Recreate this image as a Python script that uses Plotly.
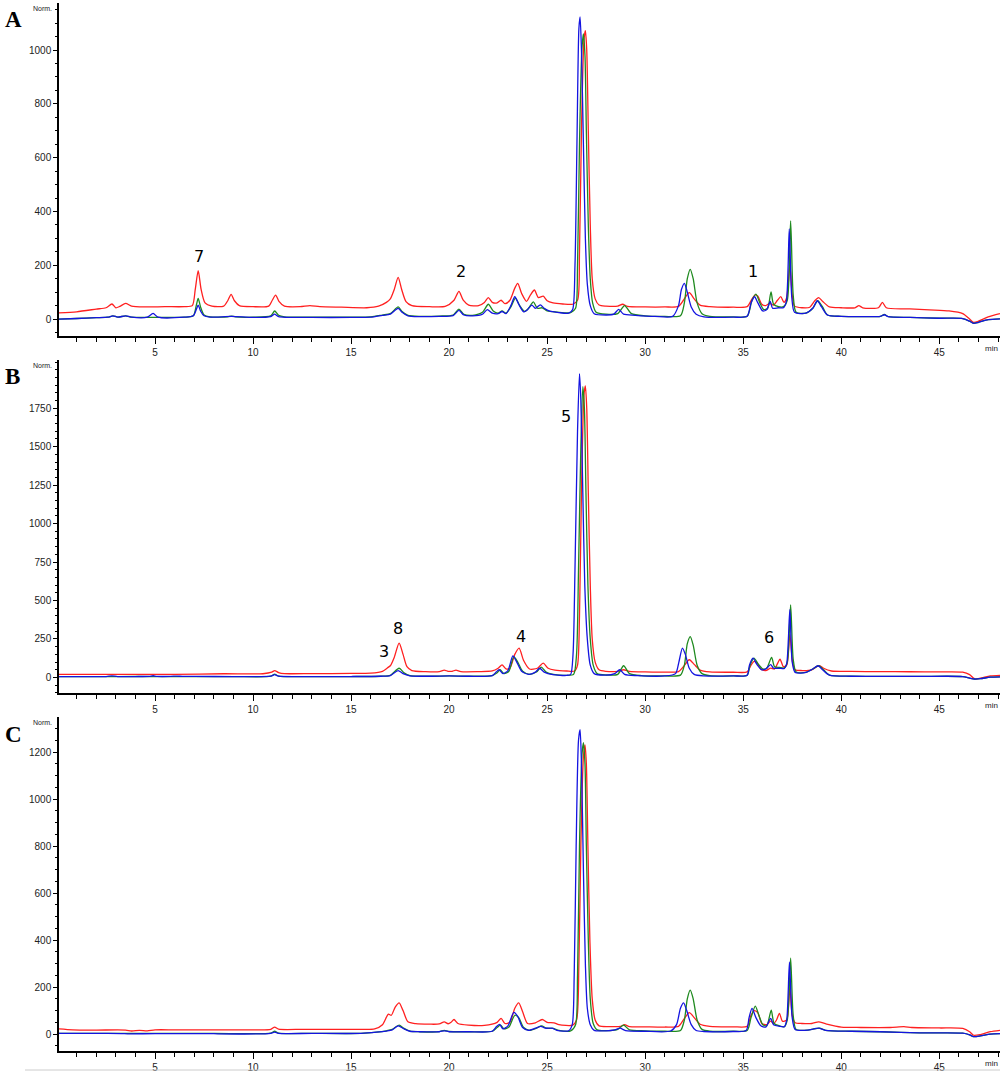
import plotly.graph_objects as go

# ---------------- data (retention time in min, signal in Norm.) ----------------
A_red = [(0.1,23),(1.0,27),(2.0,37),(2.5,42),(2.8,56),(3.0,42),(3.2,47),(3.5,58),(3.8,48),(4.5,45),(5.5,46),(6.5,46),
         (6.9,50),(7.05,110),(7.2,180),(7.35,110),(7.55,60),(7.9,48),(8.5,48),(8.72,70),(8.88,92),(9.05,68),(9.3,50),
         (10.0,46),(10.8,48),(10.98,70),(11.15,89),(11.32,66),(11.6,48),(12.4,46),(12.9,50),(13.4,46),(14.5,44),(15.8,42),
         (16.4,48),(16.8,62),(17.0,75),(17.2,110),(17.4,155),(17.58,110),(17.8,65),(18.1,50),(19.0,46),(19.8,47),
         (20.25,70),(20.5,103),(20.72,70),(21.0,52),(21.5,50),(21.8,62),(22.0,80),(22.2,62),(22.45,60),(22.65,70),
         (22.85,57),(23.1,70),(23.35,115),(23.5,133),(23.7,95),(23.95,66),(24.15,90),(24.35,108),(24.55,80),(24.8,85),
         (25.0,68),(25.3,60),(25.8,56),(26.3,55),(26.55,70),(26.65,250),(26.75,700),(26.88,1040),(26.95,1072),
         (27.02,1000),(27.1,700),(27.2,350),(27.3,150),(27.45,75),(27.65,52),(28.0,48),(28.6,48),(28.85,55),(29.1,47),
         (30.0,45),(31.0,45),(31.7,47),(31.95,70),(32.25,98),(32.5,75),(32.8,52),(33.3,46),(34.5,44),(35.2,46),
         (35.45,75),(35.62,90),(35.75,85),(35.95,55),(36.15,50),(36.35,58),(36.55,52),(36.75,70),(36.92,83),(37.08,62),
         (37.22,80),(37.38,200),(37.5,90),(37.62,48),(38.0,42),(38.4,44),(38.65,68),(38.85,80),(39.05,66),(39.4,45),
         (40.0,42),(40.7,42),(40.9,50),(41.1,42),(41.9,42),(42.1,62),(42.3,42),(43.5,38),(44.5,34),(45.5,30),(46.2,20),
         (46.55,0),(46.75,-12),(47.0,-8),(47.5,8),(48.1,20)]
A_green = [(0.1,0),(1.0,2),(2.0,5),(2.6,7),(2.85,12),(3.1,7),(3.5,12),(3.8,7),(4.5,6),(5.5,6),(6.5,7),(6.95,12),(7.1,50),
           (7.2,77),(7.32,45),(7.5,15),(7.8,8),(8.7,8),(8.9,11),(9.1,8),(10.0,7),(10.9,12),(11.1,30),(11.3,14),(11.6,8),
           (13.0,7),(15.0,7),(16.0,8),(16.6,15),(17.0,20),(17.4,45),(17.6,28),(17.9,14),(18.5,10),(19.5,11),(20.2,15),
           (20.5,37),(20.75,18),(21.2,14),(21.7,25),(22.0,55),(22.25,30),(22.5,22),(22.7,30),(22.9,22),(23.15,45),
           (23.38,78),(23.6,50),(23.85,28),(24.05,40),(24.3,64),(24.5,40),(24.75,42),(25.0,30),(25.5,26),(26.2,24),
           (26.45,40),(26.55,200),(26.65,650),(26.77,1000),(26.85,1060),(26.93,980),(27.0,700),(27.1,350),(27.2,150),
           (27.32,60),(27.5,25),(28.0,18),(28.6,20),(28.95,50),(29.3,20),(30.0,12),(31.0,10),(31.8,12),(32.0,60),
           (32.15,150),(32.3,185),(32.45,150),(32.65,60),(32.9,20),(33.3,10),(34.5,8),(35.2,10),(35.45,70),(35.65,93),
           (35.85,60),(36.05,35),(36.25,40),(36.42,101),(36.55,55),(36.8,46),(37.05,46),(37.25,70),(37.42,365),
           (37.55,90),(37.7,25),(38.2,22),(38.55,40),(38.8,68),(39.05,45),(39.3,15),(40.0,10),(41.0,9),(42.0,10),
           (42.2,17),(42.4,9),(43.5,6),(45.0,3),(46.2,2),(46.55,-8),(46.75,-16),(47.0,-12),(47.5,-2),(48.1,1)]
A_blue = [(0.1,0),(1.0,2),(2.0,5),(2.6,7),(2.85,12),(3.1,7),(3.5,12),(3.8,7),(4.6,7),(4.9,21),(5.15,7),(6.5,7),(6.95,12),
          (7.1,35),(7.2,52),(7.32,30),(7.5,12),(7.8,7),(8.9,10),(10.0,6),(10.9,9),(11.1,18),(11.3,9),(13.0,6),(15.0,6),
          (16.0,7),(16.6,14),(17.0,18),(17.4,40),(17.6,25),(17.9,12),(18.5,9),(19.5,10),(20.2,13),(20.5,32),(20.75,15),
          (21.2,12),(21.7,18),(21.95,35),(22.2,22),(22.5,20),(22.7,28),(22.9,20),(23.15,50),(23.35,83),(23.55,55),
          (23.8,27),(24.0,35),(24.22,52),(24.4,40),(24.65,53),(24.85,40),(25.1,30),(25.6,24),(26.1,22),(26.3,35),
          (26.42,200),(26.52,650),(26.62,1080),(26.68,1123),(26.75,1000),(26.85,650),(26.95,300),(27.05,130),
          (27.2,50),(27.4,20),(28.0,15),(28.4,18),(28.65,36),(28.9,18),(29.5,14),(30.5,10),(31.4,10),(31.7,50),
          (31.85,110),(32.0,133),(32.15,100),(32.35,45),(32.6,18),(33.0,8),(34.5,7),(35.2,10),(35.4,60),(35.58,83),
          (35.75,60),(36.0,30),(36.2,35),(36.38,66),(36.5,40),(36.8,42),(37.05,42),(37.2,65),(37.35,335),(37.48,80),
          (37.62,25),(38.2,22),(38.55,40),(38.78,68),(39.0,45),(39.3,15),(40.0,10),(41.0,9),(42.0,10),(42.2,16),
          (42.4,9),(43.5,6),(45.0,3),(46.2,2),(46.55,-8),(46.75,-16),(47.0,-12),(47.5,-2),(48.1,1)]

B_red = [(0.1,20),(2.0,20),(4.0,20),(6.0,20),(8.5,24),(10.5,24),(10.95,34),(11.1,45),(11.3,32),(11.6,25),(13.0,25),
         (15.0,26),(16.0,28),(16.6,40),(16.85,62),(17.0,76),(17.2,130),(17.45,223),(17.65,150),(17.85,70),(18.1,45),
         (18.8,38),(19.5,38),(19.75,48),(19.95,40),(20.15,40),(20.35,48),(20.6,38),(21.5,38),(22.2,42),(22.5,60),
         (22.7,82),(22.9,55),(23.1,60),(23.35,150),(23.57,191),(23.8,110),(24.1,55),(24.5,60),(24.8,93),(25.05,60),
         (25.4,48),(26.0,42),(26.4,42),(26.55,80),(26.65,400),(26.75,1200),(26.88,1840),(26.95,1895),(27.02,1750),
         (27.1,1200),(27.2,600),(27.3,250),(27.45,100),(27.65,50),(28.0,40),(28.6,40),(28.9,50),(29.2,40),(30.0,36),
         (31.0,35),(31.7,38),(31.95,70),(32.25,115),(32.5,85),(32.8,48),(33.3,36),(34.5,34),(35.2,36),(35.4,80),
         (35.55,105),(35.7,95),(35.9,55),(36.15,45),(36.4,60),(36.6,55),(36.75,90),(36.88,119),(37.05,70),(37.22,80),
         (37.38,280),(37.52,100),(37.65,50),(38.0,45),(38.5,50),(38.75,70),(38.9,76),(39.1,60),(39.5,42),(40.5,39),
         (42.0,38),(43.5,37),(45.0,36),(46.2,34),(46.55,18),(46.8,-8),(47.1,-4),(47.6,10),(48.1,14)]
B_green = [(0.1,5),(1.0,5),(2.0,5),(3.0,6),(5.0,6),(7.0,6),(9.0,6),(10.9,8),(11.1,22),(11.3,9),(13.0,6),(15.0,6),
           (16.5,8),(17.0,14),(17.45,60),(17.7,30),(18.0,12),(19.0,8),(20.0,10),(21.0,8),(22.2,12),(22.45,30),(22.6,50),
           (22.8,25),(23.05,40),(23.3,136),(23.5,100),(23.75,40),(24.1,20),(24.45,35),(24.7,67),(24.95,35),(25.4,18),
           (26.0,14),(26.35,20),(26.5,150),(26.6,700),(26.72,1500),(26.82,1890),(26.9,1750),(26.98,1200),(27.08,600),
           (27.2,250),(27.35,80),(27.55,25),(28.0,16),(28.6,20),(28.9,76),(29.2,25),(29.8,12),(31.0,10),(31.8,15),
           (32.0,80),(32.15,220),(32.3,266),(32.45,210),(32.65,80),(32.9,25),(33.3,12),(34.5,10),(35.2,14),(35.35,80),
           (35.55,126),(35.75,90),(36.0,55),(36.2,60),(36.45,131),(36.6,70),(36.85,65),(37.1,62),(37.25,100),
           (37.42,472),(37.55,120),(37.7,35),(38.2,33),(38.55,55),(38.85,76),(39.1,50),(39.4,15),(40.5,8),(42.0,7),
           (44.0,7),(46.2,6),(46.55,-4),(46.8,-10),(47.1,-8),(47.6,2),(48.1,4)]
B_blue = [(0.1,5),(1.0,5),(2.5,6),(2.8,10),(3.1,6),(4.0,6),(4.7,7),(4.9,11),(5.1,7),(5.8,7),(6.1,9),(6.4,7),(7.0,7),
          (9.0,6),(10.9,8),(11.1,18),(11.3,8),(13.0,6),(15.0,6),(16.5,8),(17.0,12),(17.4,45),(17.65,25),(18.0,11),
          (19.0,8),(20.0,10),(21.0,8),(22.2,12),(22.4,35),(22.55,50),(22.75,25),(23.0,45),(23.25,140),(23.45,100),
          (23.7,40),(24.05,20),(24.4,35),(24.62,60),(24.85,35),(25.3,18),(26.0,14),(26.2,20),(26.32,150),(26.42,700),
          (26.55,1600),(26.65,1975),(26.72,1800),(26.82,1200),(26.92,600),(27.05,250),(27.2,80),(27.4,25),(28.0,15),
          (28.45,25),(28.7,50),(28.95,20),(29.6,12),(31.0,10),(31.55,25),(31.72,100),(31.9,191),(32.05,150),
          (32.25,60),(32.5,20),(33.0,10),(34.5,10),(35.2,14),(35.32,80),(35.5,125),(35.7,85),(35.95,50),(36.15,55),
          (36.4,83),(36.55,60),(36.85,60),(37.1,58),(37.22,90),(37.38,440),(37.5,100),(37.65,33),(38.2,33),(38.55,55),
          (38.82,76),(39.05,50),(39.4,15),(40.5,8),(42.0,7),(44.0,7),(46.2,6),(46.55,-4),(46.8,-10),(47.1,-8),
          (47.6,2),(48.1,4)]

C_red = [(0.1,22),(0.8,18),(2.0,17),(3.5,17),(3.8,13),(4.2,16),(4.6,14),(5.0,18),(6.0,18),(8.0,18),(10.0,18),
         (10.9,20),(11.1,30),(11.3,21),(12.5,20),(14.0,20),(15.5,20),(16.2,22),(16.6,40),(16.9,85),(17.05,80),
         (17.25,115),(17.45,133),(17.65,100),(17.9,52),(18.3,44),(19.0,42),(19.5,43),(19.75,52),(19.95,44),(20.1,50),
         (20.25,62),(20.45,45),(21.0,38),(21.8,37),(22.45,50),(22.65,67),(22.85,45),(23.1,50),(23.35,110),(23.55,133),
         (23.75,95),(24.0,45),(24.4,48),(24.75,62),(25.0,50),(25.35,48),(25.6,40),(26.3,38),(26.5,60),(26.62,300),
         (26.72,800),(26.85,1180),(26.93,1230),(27.0,1150),(27.08,800),(27.18,400),(27.3,150),(27.45,60),(27.65,35),
         (28.2,32),(28.75,33),(28.95,40),(29.2,32),(30.0,31),(31.0,30),(31.7,33),(31.95,60),(32.25,91),(32.5,70),
         (32.8,42),(33.3,33),(34.5,31),(35.2,33),(35.4,80),(35.58,100),(35.75,90),(35.95,45),(36.2,40),(36.4,55),
         (36.55,45),(36.7,60),(36.85,88),(37.0,55),(37.22,60),(37.38,200),(37.5,80),(37.65,48),(38.0,45),(38.5,45),
         (38.85,52),(39.2,44),(40.0,30),(41.0,28),(42.5,28),(43.2,32),(43.6,28),(45.0,26),(46.2,24),(46.55,10),
         (46.75,-5),(47.1,-2),(47.6,10),(48.1,16)]
C_green = [(0.1,3),(2.0,3),(5.0,3),(8.0,3),(10.9,4),(11.1,12),(11.3,4),(13.0,3),(15.5,3),(16.3,8),(16.8,14),(17.1,20),
           (17.45,38),(17.7,24),(18.0,13),(18.5,10),(19.5,10),(19.75,16),(20.0,11),(21.0,10),(22.2,12),(22.45,28),
           (22.62,38),(22.8,22),(23.05,30),(23.35,80),(23.55,70),(23.8,28),(24.1,16),(24.45,25),(24.72,35),(24.95,25),
           (25.3,24),(25.6,16),(26.2,14),(26.45,40),(26.55,250),(26.65,800),(26.77,1180),(26.85,1240),(26.93,1150),
           (27.0,800),(27.1,400),(27.2,150),(27.35,45),(27.55,18),(28.2,15),(28.6,20),(28.9,38),(29.2,18),(30.0,14),
           (31.0,12),(31.8,15),(32.0,60),(32.15,150),(32.3,187),(32.45,150),(32.65,60),(32.9,20),(33.3,12),(34.5,12),
           (35.2,15),(35.4,70),(35.62,119),(35.8,80),(36.0,40),(36.2,35),(36.43,102),(36.58,45),(36.85,35),(37.1,31),
           (37.25,60),(37.42,323),(37.55,80),(37.7,20),(38.3,17),(38.6,22),(38.9,25),(39.2,16),(40.5,12),(42.0,10),
           (44.0,5),(46.2,4),(46.55,-3),(46.75,-11),(47.1,-8),(47.6,0),(48.1,2)]
C_blue = [(0.1,3),(2.0,3),(3.3,2),(3.6,1),(5.0,2),(7.8,2),(8.2,1),(10.9,3),(11.1,8),(11.3,3),(13.0,3),(15.5,3),
          (16.3,8),(16.8,13),(17.1,18),(17.4,35),(17.7,22),(18.0,12),(18.5,10),(19.5,10),(19.75,14),(20.0,10),
          (21.0,10),(22.2,12),(22.42,32),(22.58,41),(22.75,22),(23.0,35),(23.3,92),(23.5,75),(23.75,28),(24.05,16),
          (24.4,25),(24.68,33),(24.9,25),(25.25,25),(25.5,16),(26.1,14),(26.28,40),(26.38,250),(26.48,800),
          (26.6,1250),(26.68,1295),(26.75,1150),(26.85,700),(26.95,300),(27.05,110),(27.2,40),(27.4,16),(28.0,14),
          (28.45,18),(28.72,25),(29.0,15),(30.0,12),(31.3,13),(31.6,40),(31.8,110),(31.96,133),(32.12,100),
          (32.35,40),(32.6,15),(33.0,11),(34.5,11),(35.15,15),(35.3,70),(35.45,109),(35.65,70),(35.9,35),(36.15,30),
          (36.4,67),(36.55,40),(36.85,33),(37.1,31),(37.22,60),(37.36,306),(37.5,70),(37.65,20),(38.3,17),(38.6,22),
          (38.85,25),(39.2,16),(40.5,12),(42.0,10),(44.0,5),(46.2,4),(46.55,-3),(46.75,-11),(47.1,-8),(47.6,0),
          (48.1,2)]

x_tick_labels = [5, 10, 15, 20, 25, 30, 35, 40, 45]
A_y_ticks = [0, 200, 400, 600, 800, 1000]
B_y_ticks = [0, 250, 500, 750, 1000, 1250, 1500, 1750]
C_y_ticks = [0, 200, 400, 600, 800, 1000, 1200]

# peak numbers: (panel, label, time, signal)
peak_labels = [("A", "7", 7.24, 234), ("A", "2", 20.6, 175), ("A", "1", 35.5, 175),
               ("B", "5", 25.97, 1693), ("B", "8", 17.4, 316), ("B", "3", 16.68, 167),
               ("B", "4", 23.67, 264), ("B", "6", 36.33, 258)]

# ---------------- figure ----------------
W, H = 1000, 1073
RED, GREEN, BLUE = "#ff2020", "#1f8a1f", "#1414e0"

panels = [
    dict(key="A", top=3, bot=336, rng=[-63, 1175], yt=A_y_ticks, data=[A_red, A_green, A_blue]),
    dict(key="B", top=360, bot=693, rng=[-101, 2063], yt=B_y_ticks, data=[B_red, B_green, B_blue]),
    dict(key="C", top=717, bot=1051, rng=[-72, 1349], yt=C_y_ticks, data=[C_red, C_green, C_blue]),
]

fig = go.Figure()
layout = dict(width=W, height=H, margin=dict(l=0, r=0, t=0, b=0),
              paper_bgcolor="white", plot_bgcolor="white", showlegend=False)
annotations = []
axfont = dict(family="Liberation Sans Narrow, Liberation Sans, Arial", size=10, color="#222")

for i, p in enumerate(panels):
    n = "" if i == 0 else str(i + 1)
    xa, ya = "x" + n, "y" + n
    for series, col in zip(p["data"], [RED, GREEN, BLUE]):
        fig.add_trace(go.Scatter(x=[a for a, b in series], y=[b for a, b in series], mode="lines",
                                 line=dict(color=col, width=1.3, shape="spline", smoothing=0.7),
                                 xaxis=xa, yaxis=ya, hoverinfo="skip"))
    d0, d1 = 1 - p["bot"] / H, 1 - p["top"] / H
    layout["xaxis" + n] = dict(domain=[59 / W, 1.0], range=[0.1, 48.1], anchor=ya,
                               tickvals=x_tick_labels, ticktext=[str(v) for v in x_tick_labels],
                               ticks="outside", ticklen=6, tickwidth=1, tickcolor="black",
                               showline=True, linecolor="black", linewidth=1.5, showgrid=False,
                               zeroline=False, tickfont=axfont,
                               minor=dict(dtick=1, tick0=0, ticks="outside", ticklen=4, tickcolor="black",
                                          showgrid=False))
    layout["yaxis" + n] = dict(domain=[d0, d1], range=p["rng"], anchor=xa,
                               tickvals=p["yt"], ticktext=[str(v) for v in p["yt"]],
                               ticks="outside", ticklen=4, tickwidth=1, tickcolor="black",
                               showline=True, linecolor="black", linewidth=1.5, showgrid=False,
                               zeroline=False, tickfont=axfont,
                               minor=dict(dtick=50, tick0=0, ticks="outside", ticklen=2, tickcolor="black",
                                          showgrid=False))
    # panel letter
    annotations.append(dict(text="<b>" + p["key"] + "</b>", xref="paper", yref="paper",
                            x=3 / W, y=1 - (p["top"] + 17) / H, xanchor="left", yanchor="middle",
                            showarrow=False, font=dict(family="Liberation Serif, Times New Roman", size=23,
                                                       color="black")))
    # Norm. label
    annotations.append(dict(text="Norm.", xref="paper", yref="paper", x=54 / W, y=1 - (p["top"] + 5) / H,
                            xanchor="right", yanchor="middle", showarrow=False,
                            font=dict(family="Liberation Sans Narrow, Liberation Sans, Arial", size=7,
                                      color="#222")))
    # min label
    annotations.append(dict(text="min", xref="paper", yref="paper", x=1.0, y=1 - (p["bot"] + 12) / H,
                            xanchor="right", yanchor="middle", showarrow=False,
                            font=dict(family="Liberation Sans Narrow, Liberation Sans, Arial", size=8,
                                      color="#222")))
    for key, lab, t, v in peak_labels:
        if key == p["key"]:
            annotations.append(dict(text=lab, x=t, y=v, xref=xa, yref=ya, showarrow=False,
                                    xanchor="center", yanchor="middle",
                                    font=dict(family="DejaVu Sans, Verdana", size=16, color="black")))

layout["annotations"] = annotations
layout["shapes"] = [dict(type="line", xref="paper", yref="paper", x0=25 / W, x1=1.0,
                         y0=1 - 1070 / H, y1=1 - 1070 / H, line=dict(color="#cccccc", width=1))]
fig.update_layout(**layout)
fig.write_html("out.html", config={"displayModeBar": False},
               post_script="document.body.style.margin='0';document.body.style.padding='0';")
